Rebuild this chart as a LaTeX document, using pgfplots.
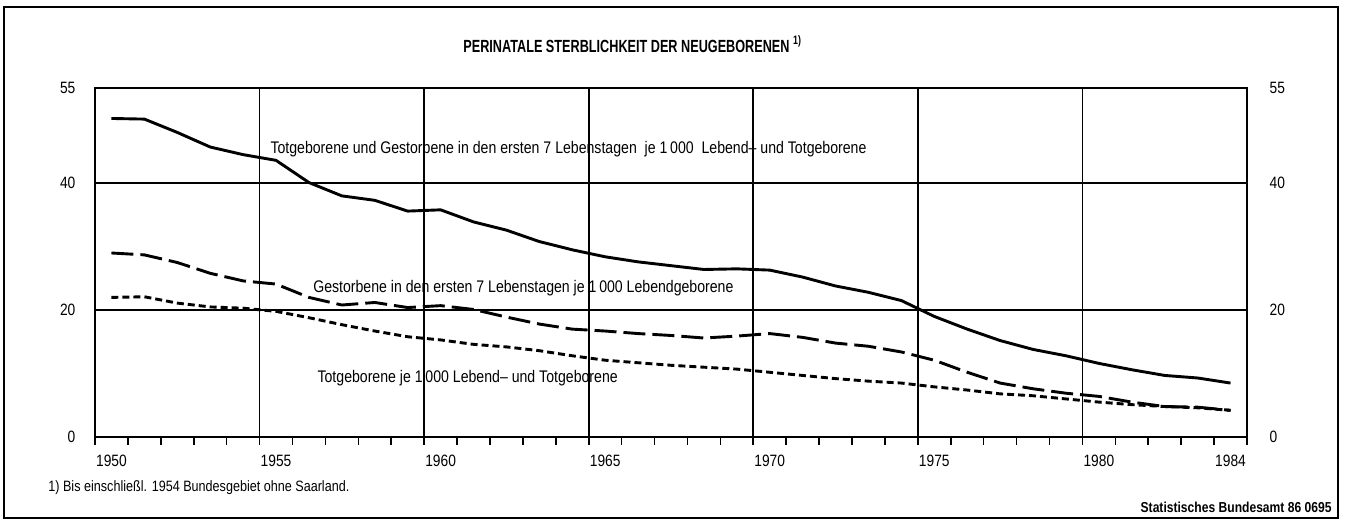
\documentclass[border=0pt]{standalone}
\usepackage{pgfplots}
\pgfplotsset{compat=1.18}
\usepackage{fontspec}
\setmainfont{Liberation Sans}[FakeStretch=0.84]
\newfontfamily\titlefont{Liberation Sans}[FakeStretch=0.72]
\begin{document}
\begin{tikzpicture}
\useasboundingbox (-47.5pt,-43.5pt) rectangle (625.5pt,218.5pt);
\begin{axis}[name=ax, at={(0pt,0pt)}, anchor=south west,
  scale only axis, width=576pt, height=174.5pt,
  xmin=1950, xmax=1985, ymin=0, ymax=55,
  axis line style={line width=1pt},
  xtick={1955,1960,1965,1970,1975,1980}, xticklabels={},
  minor xtick={1950,1951,...,1985},
  xmajorgrids, ymajorgrids,
  ytick={0,20,40,55},
  grid style={black, line width=0.85pt},
  tick align=outside, major tick length=0pt, minor tick length=4pt,
  every tick/.style={black, line width=0.8pt},
  xtick pos=bottom, ytick pos=left,
  extra x ticks={1950.5,1955.5,1960.5,1965.5,1970.5,1975.5,1980.5,1984.5},
  extra x tick labels={1950,1955,1960,1965,1970,1975,1980,1984},
  extra x tick style={grid=none, major tick length=0pt},
  tick label style={font=\fontsize{8.2}{9}\selectfont},
  xticklabel style={anchor=center, yshift=-12pt},
  yticklabel style={anchor=east, xshift=-6.3pt},
  /pgf/number format/assume math mode=true,
  clip=false]
\addplot[black, line width=1.45pt, line join=round] coordinates {
(1950.5,50.2) (1951.5,50.1) (1952.5,48.0) (1953.5,45.7) (1954.5,44.5)
(1955.5,43.6) (1956.5,40.1) (1957.5,38.0) (1958.5,37.3) (1959.5,35.6)
(1960.5,35.8) (1961.5,33.9) (1962.5,32.6) (1963.5,30.8) (1964.5,29.5)
(1965.5,28.4) (1966.5,27.6) (1967.5,27.0) (1968.5,26.4) (1969.5,26.5)
(1970.5,26.3) (1971.5,25.2) (1972.5,23.8) (1973.5,22.8) (1974.5,21.5)
(1975.5,19.0) (1976.5,17.0) (1977.5,15.2) (1978.5,13.8) (1979.5,12.8)
(1980.5,11.6) (1981.5,10.6) (1982.5,9.7) (1983.5,9.3) (1984.5,8.5)};
\addplot[black, line width=1.45pt, dash pattern=on 11pt off 3.5pt] coordinates {
(1950.5,29.0) (1951.5,28.7) (1952.5,27.5) (1953.5,25.8) (1954.5,24.6)
(1955.5,24.1) (1956.5,22.0) (1957.5,20.8) (1958.5,21.2) (1959.5,20.4)
(1960.5,20.7) (1961.5,20.1) (1962.5,18.9) (1963.5,17.8) (1964.5,17.0)
(1965.5,16.7) (1966.5,16.3) (1967.5,16.0) (1968.5,15.6) (1969.5,15.9)
(1970.5,16.3) (1971.5,15.7) (1972.5,14.8) (1973.5,14.3) (1974.5,13.4)
(1975.5,12.1) (1976.5,10.2) (1977.5,8.5) (1978.5,7.6) (1979.5,6.9)
(1980.5,6.4) (1981.5,5.5) (1982.5,4.8) (1983.5,4.7) (1984.5,4.2)};
\addplot[black, line width=1.45pt, dash pattern=on 3.5pt off 2pt] coordinates {
(1950.5,22.0) (1951.5,22.1) (1952.5,21.1) (1953.5,20.5) (1954.5,20.3)
(1955.5,19.8) (1956.5,18.8) (1957.5,17.7) (1958.5,16.7) (1959.5,15.8)
(1960.5,15.3) (1961.5,14.6) (1962.5,14.2) (1963.5,13.6) (1964.5,12.8)
(1965.5,12.1) (1966.5,11.7) (1967.5,11.3) (1968.5,11.0) (1969.5,10.7)
(1970.5,10.2) (1971.5,9.7) (1972.5,9.2) (1973.5,8.8) (1974.5,8.5)
(1975.5,7.9) (1976.5,7.4) (1977.5,6.8) (1978.5,6.5) (1979.5,6.0)
(1980.5,5.5) (1981.5,5.1) (1982.5,4.8) (1983.5,4.6) (1984.5,4.2)};
\node[anchor=west, font=\fontsize{8.4}{9}\selectfont, inner sep=0pt] at (axis cs:1955.32,45.4)
  {Totgeborene und Gestorbene in den ersten 7 Lebenstagen\ \ je 1\,000\ \ Lebend– und Totgeborene};
\node[anchor=west, font=\fontsize{8.4}{9}\selectfont, inner sep=0pt] at (axis cs:1956.62,23.5)
  {Gestorbene in den ersten 7 Lebenstagen je 1\,000 Lebendgeborene};
\node[anchor=west, font=\fontsize{8.4}{9}\selectfont, inner sep=0pt] at (axis cs:1956.75,9.3)
  {Totgeborene je 1\,000 Lebend– und Totgeborene};
\node[anchor=west, font=\fontsize{8.2}{9}\selectfont, xshift=7.8pt] at (axis cs:1985,0) {0};
\node[anchor=west, font=\fontsize{8.2}{9}\selectfont, xshift=7.8pt] at (axis cs:1985,20) {20};
\node[anchor=west, font=\fontsize{8.2}{9}\selectfont, xshift=7.8pt] at (axis cs:1985,40) {40};
\node[anchor=west, font=\fontsize{8.2}{9}\selectfont, xshift=7.8pt] at (axis cs:1985,55) {55};
\end{axis}
\draw[line width=1pt] (-45.5pt,-40.5pt) rectangle (621.5pt,215pt);
\node[anchor=west, inner sep=0pt, font=\fontsize{8.8}{9}\titlefont\bfseries] at (184pt,196.5pt)
  {PERINATALE STERBLICHKEIT DER NEUGEBORENEN \textsuperscript{1)}};
\node[anchor=west, inner sep=0pt, font=\fontsize{7.5}{9}\selectfont] at (-23.5pt,-25.5pt)
  {1) Bis einschließl. 1954 Bundesgebiet ohne Saarland.};
\node[anchor=east, inner sep=0pt, font=\fontsize{7.2}{9}\selectfont\bfseries] at (618.5pt,-35pt)
  {Statistisches Bundesamt 86 0695};
\end{tikzpicture}
\end{document}
